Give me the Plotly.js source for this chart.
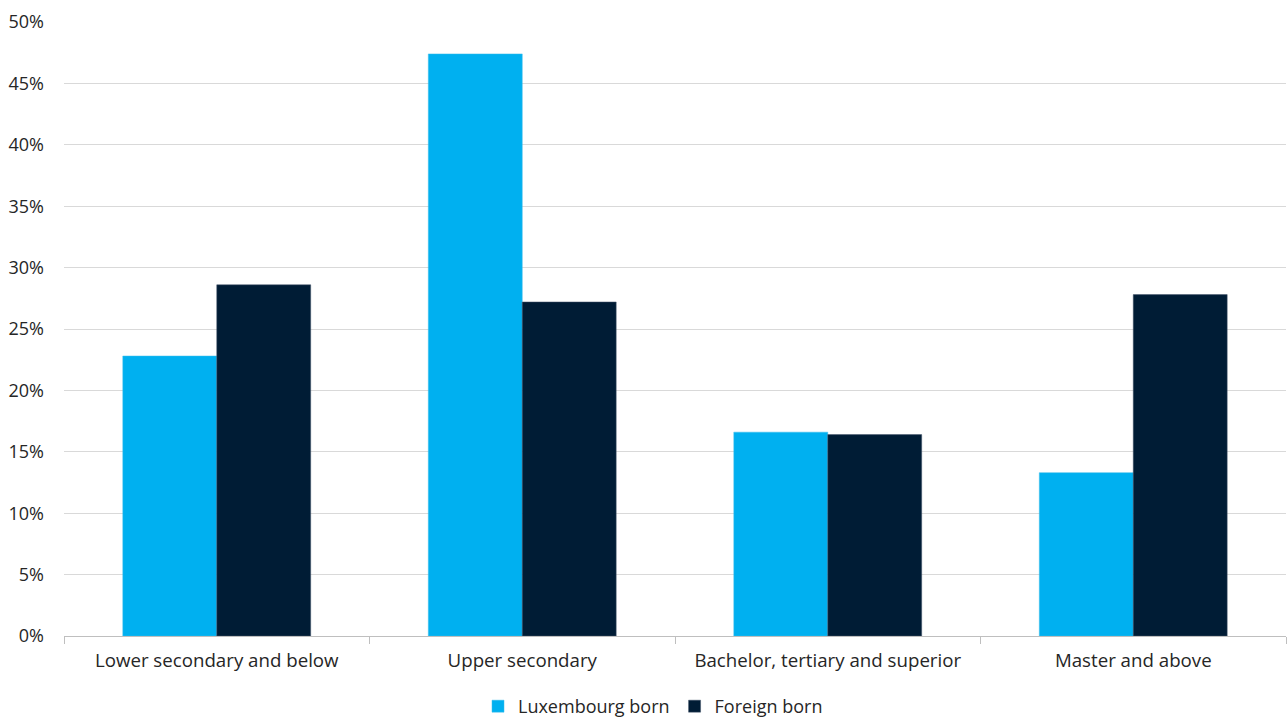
<!DOCTYPE html>
<html>
<head>
<meta charset="utf-8">
<script src="https://cdn.plot.ly/plotly-3.0.1.min.js"></script>
<style>html,body{margin:0;padding:0;background:#fff;}#chart{width:1288px;height:721px;}</style>
</head>
<body>
<div id="chart"></div>
<script>
const categories = ["Lower secondary and below", "Upper secondary", "Bachelor, tertiary and superior", "Master and above"];
const luxembourgBorn = [0.228, 0.474, 0.166, 0.133];
const foreignBorn = [0.286, 0.272, 0.164, 0.278];
const yTickVals = [0, 0.05, 0.10, 0.15, 0.20, 0.25, 0.30, 0.35, 0.40, 0.45, 0.50];
const yTickText = ["0%", "5%", "10%", "15%", "20%", "25%", "30%", "35%", "40%", "45%", "50%"];

const traces = [
  {type: "bar", name: "Luxembourg born", x: categories, y: luxembourgBorn,
   marker: {color: "#00B0F0", line: {color: "#3BBDEB", width: 0.5}}},
  {type: "bar", name: "Foreign born", x: categories, y: foreignBorn,
   marker: {color: "#001C35", line: {color: "#44546A", width: 0.5}}}
];

const layout = {
  width: 1288, height: 721,
  margin: {l: 64, r: 2, t: 22, b: 85, autoexpand: false},
  paper_bgcolor: "#ffffff", plot_bgcolor: "#ffffff",
  font: {family: "Open Sans, sans-serif", size: 18, color: "#262626"},
  barmode: "group", bargap: 0.385, bargroupgap: 0,
  showlegend: true,
  legend: {orientation: "h", x: 0.482, xanchor: "center", xref: "paper", y: -89/614, yanchor: "bottom",
           font: {size: 18, color: "#262626"}, itemwidth: 30, traceorder: "normal"},
  xaxis: {type: "category", showgrid: false, showline: true, linecolor: "#BFBFBF", linewidth: 1,
          ticks: "outside", tickson: "boundaries", ticklen: 7, tickcolor: "#BFBFBF",
          tickfont: {size: 18.7, color: "#262626"}, zeroline: false, ticklabelstandoff: 8},
  yaxis: {range: [0, 0.5], tickvals: yTickVals, ticktext: yTickText, showgrid: true,
          gridcolor: "#D9D9D9", gridwidth: 1, zeroline: false, showline: false,
          ticks: "", tickfont: {size: 18, color: "#262626"}, ticklabelstandoff: 19}
};

Plotly.newPlot("chart", traces, layout, {displayModeBar: false, staticPlot: true});
</script>
</body>
</html>
